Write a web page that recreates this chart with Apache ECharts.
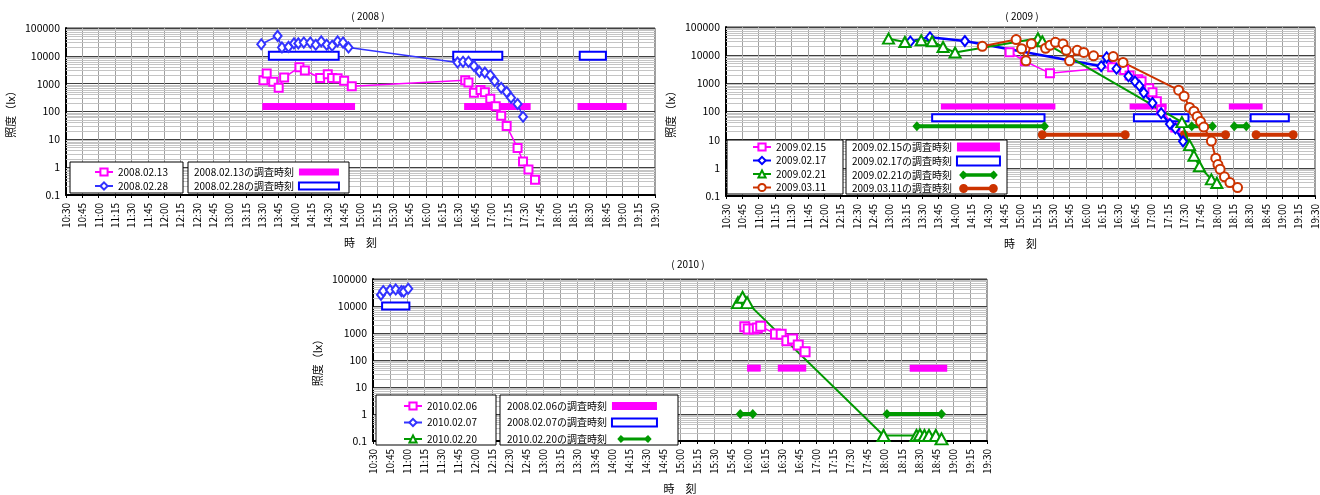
<!DOCTYPE html>
<html>
<head>
<meta charset="utf-8">
<script src="https://cdn.jsdelivr.net/npm/echarts@6/dist/echarts.min.js"></script>
<style>
  html, body { margin: 0; padding: 0; background: #fff; }
  #main { width: 1320px; height: 495px; }
</style>
</head>
<body>
<div id="main"></div>
<script>
  // ---- 2008 ----
  const t080213 = ['13:31', '13:34', '13:40', '13:45', '13:50', '14:04', '14:09', '14:23', '14:30', '14:34', '14:39', '14:45', '14:52',
    '16:36', '16:39', '16:44', '16:50', '16:54', '16:59', '17:04', '17:09', '17:14', '17:24', '17:29', '17:34', '17:40']
  const v080213 = [1340, 2300, 1170, 720, 1650, 3900, 3000, 1600, 2200, 1600, 1550, 1270, 800,
    1340, 1110, 470, 590, 490, 290, 155, 70, 30, 4.9, 1.6, 0.82, 0.35]
  const t080228 = ['13:29', '13:44', '13:48', '13:54', '13:59', '14:03', '14:08', '14:14', '14:19', '14:24', '14:29', '14:34', '14:39', '14:44', '14:49',
    '16:29', '16:34', '16:39', '16:44', '16:49', '16:54', '16:59', '17:03', '17:09', '17:14', '17:18', '17:24', '17:29']
  const v080228 = [26000, 52000, 20000, 21000, 28000, 28000, 30000, 30000, 25000, 33000, 25000, 23000, 33000, 30000, 20000,
    5800, 6100, 6100, 4300, 2700, 2500, 2000, 1240, 710, 500, 310, 186, 65]
  const span080213 = [['13:30', '14:55'], ['16:35', '17:36'], ['18:19', '19:04']]
  const span080228 = [['13:36', '14:40'], ['16:25', '17:10'], ['18:21', '18:45']]

  // ---- 2009 ----
  const t090215 = ['14:50', '15:04', '15:27', '16:24', '16:35', '16:40', '16:48', '16:51', '16:58', '17:01', '17:05', '17:09', '17:22']
  const v090215 = [12700, 6100, 2300, 3700, 3000, 1900, 1400, 1190, 670, 480, 230, 110, 27]
  const t090217 = ['13:19', '13:37', '14:09', '16:14', '16:19', '16:28', '16:39', '16:45', '16:49', '16:53', '17:01', '17:09', '17:17', '17:22', '17:29']
  const v090217 = [30600, 43100, 31600, 4050, 8400, 3300, 1790, 1160, 820, 460, 200, 87, 36, 25, 8.7]
  const t090221 = ['12:59', '13:14', '13:29', '13:39', '13:49', '14:00', '15:16', '15:20', '17:28', '17:35', '17:39', '17:44', '17:55', '18:00']
  const v090221 = [38700, 29400, 33700, 31100, 19500, 12400, 39700, 31100, 42, 6.4, 2.7, 1.14, 0.39, 0.29]
  const t090311 = ['14:25', '14:56', '15:01', '15:05', '15:10', '15:23', '15:27', '15:32', '15:39', '15:42', '15:45', '15:52', '15:58', '16:07', '16:25', '16:34',
    '17:25', '17:30', '17:35', '17:39', '17:42', '17:45', '17:48', '17:55', '17:59', '18:01', '18:03', '18:07', '18:12', '18:19']
  const v090311 = [20700, 35700, 16900, 6300, 25400, 17600, 22400, 28700, 25000, 14900, 6300, 14900, 12500, 9500, 8900, 5500,
    570, 350, 139, 103, 67, 44, 28, 8.9, 2.2, 1.3, 0.89, 0.48, 0.30, 0.20]
  const span090215 = [['13:47', '15:32'], ['16:40', '17:14'], ['18:11', '18:42']]
  const span090217 = [['13:39', '15:22'], ['16:44', '17:34'], ['18:31', '19:06']]
  const span090221 = [['13:25', '15:22'], ['17:37', '17:56'], ['18:16', '18:27']]
  const span090311 = [['15:20', '16:36'], ['17:30', '18:08'], ['18:36', '19:10']]

  // ---- 2010 ----
  const t100206 = ['15:57', '16:00', '16:05', '16:08', '16:11', '16:24', '16:29', '16:34', '16:39', '16:44', '16:50']
  const v100206 = [1690, 1420, 1420, 1530, 1760, 920, 900, 520, 600, 360, 200]
  const t100207 = ['10:37', '10:39', '10:45', '10:50', '10:55', '10:57', '11:01']
  const v100207 = [25900, 35800, 38800, 41100, 35800, 34100, 43500]
  const t100220 = ['15:51', '15:55', '15:59', '17:59', '18:28', '18:31', '18:35', '18:39', '18:45', '18:50']
  const v100220 = [13300, 21000, 13300, 0.16, 0.16, 0.17, 0.16, 0.16, 0.16, 0.12]
  const span100206 = [['15:59', '16:11'], ['16:26', '16:51'], ['18:22', '18:55']]
  const span100207 = [['10:38', '11:02']]
  const span100220 = [['15:53', '16:04'], ['18:02', '18:50']]

  // 調査時刻の表示レベル
  const level = { p08: 150, b08: 10000, p09: 150, b09: 60, g09: 30, o09: 15, p10: 50, b10: 10000, g10: 1 }

  const PINK = '#ff00ff'
  const BLUE = '#0000ff'
  const BLUE08 = '#3333ff'
  const GREEN = '#009900'
  const ORANGE = '#cc3300'
  const FONT = '"Noto Sans CJK JP", "Noto Sans", sans-serif'

  function toMin (s) {
    const p = s.split(':')
    return +p[0] * 60 + +p[1]
  }
  function fmtTime (v) {
    const m = v % 60
    return Math.floor(v / 60) + ':' + (m < 10 ? '0' + m : m)
  }

  const chart = echarts.init(document.getElementById('main'))

  const grids = [
    { left: 66, top: 28, width: 589, height: 167 },
    { left: 726, top: 27, width: 589, height: 169 },
    { left: 373, top: 279, width: 614, height: 171 }
  ]

  const xAxis = grids.map((g, i) => ({
    type: 'value', gridIndex: i, min: 630, max: 1170, interval: 15,
    name: '時　刻', nameLocation: 'middle', nameGap: 42,
    nameTextStyle: { fontSize: 11, color: '#000', fontFamily: FONT },
    axisLine: { lineStyle: { color: '#000', width: 2 } },
    axisTick: { show: true, length: 3, lineStyle: { color: '#000' } },
    axisLabel: { rotate: 90, fontSize: 10, color: '#000', margin: 8, formatter: fmtTime, fontFamily: FONT },
    splitLine: { show: true, lineStyle: { color: '#a0a0a0', width: 1 } }
  }))

  const yAxis = grids.map((g, i) => ({
    type: 'log', gridIndex: i, logBase: 10, min: 0.1, max: 100000, splitNumber: 10,
    name: '照度（lx）', nameLocation: 'middle', nameRotate: 90, nameGap: 50,
    nameTextStyle: { fontSize: 11, color: '#000', fontFamily: FONT },
    axisLine: { show: true, lineStyle: { color: '#000', width: 2 } },
    axisTick: { show: false },
    axisLabel: { fontSize: 10.5, color: '#000', margin: 6, fontFamily: FONT,
      formatter: v => v < 1 ? '0.1' : String(Math.round(v)) },
    splitLine: { show: true, lineStyle: { color: '#404040', width: 1 } }
  }))

  // 対数目盛の補助線
  const minorLines = []
  for (let k = -1; k <= 4; k++) {
    for (let m = 2; m <= 9; m++) minorLines.push({ yAxis: m * Math.pow(10, k) })
  }

  function gridSeries (i) {
    return {
      type: 'line', xAxisIndex: i, yAxisIndex: i, data: [], z: 1, silent: true,
      markLine: { silent: true, z: 1, symbol: 'none', label: { show: false }, animation: false,
        emphasis: { disabled: true },
        lineStyle: { color: '#c4c4c4', width: 1, type: 'solid' }, data: minorLines }
    }
  }

  function lineSeries (name, times, vals, i, color, symbol, size, width) {
    return {
      name, type: 'line', xAxisIndex: i, yAxisIndex: i, z: 4,
      data: times.map((t, k) => [toMin(t), vals[k]]),
      symbol, symbolSize: size, showSymbol: true, color,
      lineStyle: { color, width },
      itemStyle: { color, borderWidth: 1.5 }
    }
  }

  function spanSeries (name, spans, lv, i, kind, color, h) {
    return {
      name, type: 'custom', xAxisIndex: i, yAxisIndex: i, z: 3,
      encode: { x: [0, 1], y: 2 },
      itemStyle: { color },
      data: spans.map(s => [toMin(s[0]), toMin(s[1]), lv]),
      renderItem: function (params, api) {
        const a = api.coord([api.value(0), api.value(2)])
        const b = api.coord([api.value(1), api.value(2)])
        const y = a[1]
        const w = b[0] - a[0]
        if (kind === 'fill') {
          return { type: 'rect', shape: { x: a[0], y: y - h / 2, width: w, height: h }, style: { fill: color } }
        }
        if (kind === 'hollow') {
          return { type: 'rect', shape: { x: a[0], y: y - h / 2, width: w, height: h }, style: { fill: '#fff', stroke: color, lineWidth: 2 } }
        }
        const bar = { type: 'rect', shape: { x: a[0], y: y - 2, width: w, height: 4 }, style: { fill: color } }
        if (kind === 'arrow') {
          const dia = x => ({ type: 'polygon', shape: { points: [[x - 4.5, y], [x, y - 5], [x + 4.5, y], [x, y + 5]] }, style: { fill: color } })
          return { type: 'group', children: [bar, dia(a[0]), dia(b[0])] }
        }
        const dot = x => ({ type: 'circle', shape: { cx: x, cy: y, r: 4.5 }, style: { fill: color } })
        return { type: 'group', children: [bar, dot(a[0]), dot(b[0])] }
      }
    }
  }

  const series = [
    gridSeries(0), gridSeries(1), gridSeries(2),
    spanSeries('2008.02.13の調査時刻', span080213, level.p08, 0, 'fill', PINK, 7),
    spanSeries('2008.02.28の調査時刻', span080228, level.b08, 0, 'hollow', BLUE, 8),
    lineSeries('2008.02.13', t080213, v080213, 0, PINK, 'emptyRect', 8, 1.5),
    lineSeries('2008.02.28', t080228, v080228, 0, BLUE08, 'emptyDiamond', [8, 10], 1.5),

    spanSeries('2009.02.15の調査時刻', span090215, level.p09, 1, 'fill', PINK, 6),
    spanSeries('2009.02.17の調査時刻', span090217, level.b09, 1, 'hollow', BLUE, 7),
    spanSeries('2009.02.21の調査時刻', span090221, level.g09, 1, 'arrow', GREEN),
    spanSeries('2009.03.11の調査時刻', span090311, level.o09, 1, 'dumbbell', ORANGE),
    lineSeries('2009.02.15', t090215, v090215, 1, PINK, 'emptyRect', 8, 1.5),
    lineSeries('2009.02.17', t090217, v090217, 1, BLUE, 'emptyDiamond', [8, 10], 2.5),
    lineSeries('2009.02.21', t090221, v090221, 1, GREEN, 'emptyTriangle', [11, 10], 2),
    lineSeries('2009.03.11', t090311, v090311, 1, ORANGE, 'emptyCircle', 9, 2),

    spanSeries('2008.02.06の調査時刻', span100206, level.p10, 2, 'fill', PINK, 7),
    spanSeries('2008.02.07の調査時刻', span100207, level.b10, 2, 'hollow', BLUE, 7),
    spanSeries('2010.02.20の調査時刻', span100220, level.g10, 2, 'arrow', GREEN),
    lineSeries('2010.02.06', t100206, v100206, 2, PINK, 'emptyRect', 9, 1.5),
    lineSeries('2010.02.07', t100207, v100207, 2, BLUE08, 'emptyDiamond', [8, 10], 1.5),
    lineSeries('2010.02.20', t100220, v100220, 2, GREEN, 'emptyTriangle', [12, 11], 2)
  ]

  const ARROW = 'path://M0,5 L4.5,0 L8,3 L35,3 L38.5,0 L43,5 L38.5,10 L35,7 L8,7 L4.5,10 Z'
  const DUMBBELL = 'path://M5,0 A5,5 0 1 1 5,10 A5,5 0 1 1 5,0 Z M38,0 A5,5 0 1 1 38,10 A5,5 0 1 1 38,0 Z M5,3 L38,3 L38,7 L5,7 Z'
  const fillIcon = c => ({ icon: 'rect', itemStyle: { color: c, borderWidth: 0 } })
  const hollowIcon = c => ({ icon: 'rect', itemStyle: { color: '#fff', borderColor: c, borderWidth: 2 } })

  const legendBase = { orient: 'vertical', padding: 0, z: 6, selectedMode: false,
    textStyle: { fontSize: 10, color: '#000', fontFamily: FONT } }

  const legend = [
    Object.assign({}, legendBase, { left: 94, top: 167, itemWidth: 18, itemHeight: 9, itemGap: 4,
      data: ['2008.02.13', '2008.02.28'] }),
    Object.assign({}, legendBase, { left: 194, top: 167, itemWidth: 40, itemHeight: 7, itemGap: 4, align: 'right',
      textStyle: Object.assign({}, legendBase.textStyle, { width: 104 }),
      data: [
        Object.assign({ name: '2008.02.13の調査時刻' }, fillIcon(PINK)),
        Object.assign({ name: '2008.02.28の調査時刻' }, hollowIcon(BLUE))
      ] }),
    Object.assign({}, legendBase, { left: 752, top: 142, itemWidth: 18, itemHeight: 9, itemGap: 3.5,
      data: ['2009.02.15', '2009.02.17', '2009.02.21', '2009.03.11'] }),
    Object.assign({}, legendBase, { left: 852, top: 142, itemWidth: 43, itemHeight: 9, itemGap: 3.5, align: 'right',
      textStyle: Object.assign({}, legendBase.textStyle, { width: 105 }),
      data: [
        Object.assign({ name: '2009.02.15の調査時刻' }, fillIcon(PINK)),
        Object.assign({ name: '2009.02.17の調査時刻' }, hollowIcon(BLUE)),
        { name: '2009.02.21の調査時刻', icon: ARROW, itemStyle: { color: GREEN, borderWidth: 0 } },
        { name: '2009.03.11の調査時刻', icon: DUMBBELL, itemStyle: { color: ORANGE, borderWidth: 0 } }
      ] }),
    Object.assign({}, legendBase, { left: 403, top: 401, itemWidth: 18, itemHeight: 9, itemGap: 6.5,
      data: ['2010.02.06', '2010.02.07', '2010.02.20'] }),
    Object.assign({}, legendBase, { left: 507, top: 401, itemWidth: 45, itemHeight: 8, itemGap: 6.5, align: 'right',
      textStyle: Object.assign({}, legendBase.textStyle, { width: 118 }),
      data: [
        Object.assign({ name: '2008.02.06の調査時刻' }, fillIcon(PINK)),
        Object.assign({ name: '2008.02.07の調査時刻' }, hollowIcon(BLUE)),
        { name: '2010.02.20の調査時刻', icon: ARROW, itemStyle: { color: GREEN, borderWidth: 0 } }
      ] })
  ]

  const box = (x, y, w, h) => ({ type: 'rect', z: 5, silent: true, shape: { x, y, width: w, height: h },
    style: { fill: '#fff', stroke: '#000', lineWidth: 1 } })

  const titleStyle = { fontSize: 10, fontWeight: 'normal', color: '#000', fontFamily: FONT }

  const option = {
    animation: false,
    backgroundColor: '#fff',
    textStyle: { fontFamily: FONT },
    title: [
      { text: '( 2008 )', left: 363, top: 6, textAlign: 'center', textStyle: titleStyle },
      { text: '( 2009 )', left: 1017, top: 6, textAlign: 'center', textStyle: titleStyle },
      { text: '( 2010 )', left: 683, top: 254, textAlign: 'center', textStyle: titleStyle }
    ],
    grid: grids.map(g => Object.assign({ show: true, borderColor: '#333', borderWidth: 1 }, g)),
    xAxis,
    yAxis,
    legend,
    graphic: [
      box(70, 162, 113, 31), box(188, 162, 161, 31),
      box(727, 140, 116, 54), box(846, 140, 161, 54),
      box(376, 395, 120, 50), box(500, 395, 178, 50)
    ],
    series
  }

  chart.setOption(option)
</script>
</body>
</html>
